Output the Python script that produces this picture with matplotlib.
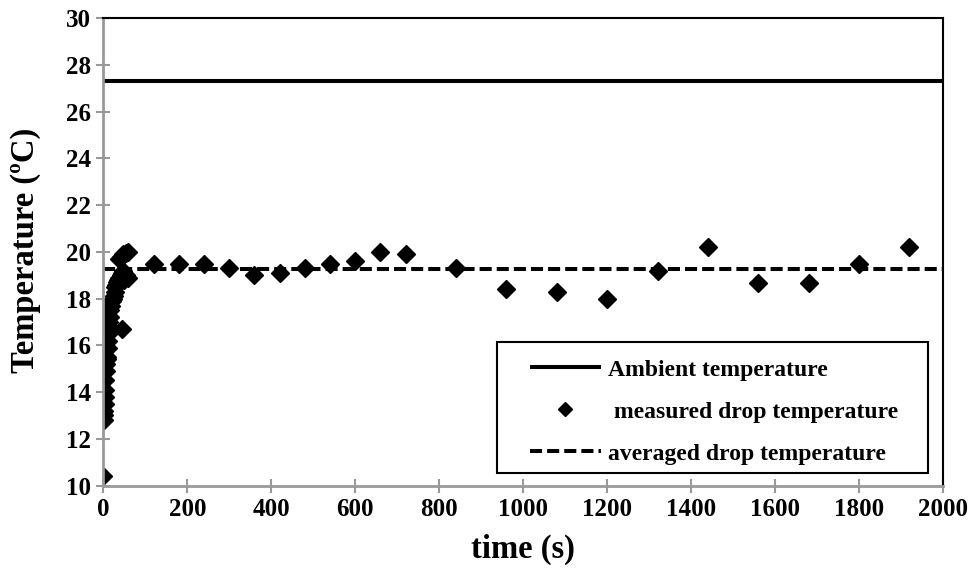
import matplotlib
matplotlib.use("Agg")
import matplotlib.pyplot as plt
from matplotlib.patches import Rectangle

# ---- data ----
t_measured = [0, 1, 2, 2, 3, 4, 5, 5, 6, 7, 8, 9, 10, 11, 12, 13, 14, 16, 17, 19, 21, 23,
              25, 27, 29, 31, 33, 35, 38, 41, 44, 47, 50, 55, 60, 44, 38, 42, 48, 55, 60,
              120, 180, 240, 300, 360, 420, 480, 540, 600, 660, 720, 840, 960, 1080,
              1200, 1320, 1440, 1560, 1680, 1800, 1920]
T_measured = [10.4, 12.8, 13.0, 13.2, 13.5, 13.8, 14.1, 14.5, 14.9, 15.2, 15.4, 15.5, 15.9,
              16.2, 16.5, 16.8, 17.0, 17.2, 17.5, 17.7, 17.9, 18.0, 18.1, 18.3, 18.5, 18.6,
              18.7, 18.8, 18.9, 19.0, 19.1, 19.2, 18.8, 19.0, 18.9, 16.7, 19.7, 19.8, 19.9,
              19.95, 20.0,
              19.5, 19.5, 19.5, 19.3, 19.0, 19.1, 19.3, 19.5, 19.6, 20.0, 19.9, 19.3, 18.4,
              18.3, 18.0, 19.2, 20.2, 18.65, 18.65, 19.5, 20.2]
ambient_T = 27.3
averaged_T = 19.25
x_range = [0, 2000]
x_ticks = [0, 200, 400, 600, 800, 1000, 1200, 1400, 1600, 1800, 2000]
y_ticks = [10, 12, 14, 16, 18, 20, 22, 24, 26, 28, 30]

plt.rcParams['font.family'] = ['Liberation Serif', 'DejaVu Serif']
plt.rcParams['font.weight'] = 'bold'

W, H = 970, 568
fig = plt.figure(figsize=(W / 100, H / 100), dpi=100)
ax = fig.add_axes([0.1065, 0.1452, 0.8657, 0.8226])

ax.plot(x_range, [ambient_T, ambient_T], color='black', lw=2.9, solid_capstyle='butt',
        label='Ambient temperature')
ax.plot(t_measured, T_measured, linestyle='none', marker='D', color='black', ms=9.5,
        label=' measured drop temperature')
ax.plot(x_range, [averaged_T, averaged_T], color='black', lw=2.9, dashes=(3, 1.25),
        label='averaged drop temperature')

ax.set_xlim(0, 2000)
ax.set_ylim(10, 30)
ax.set_xticks(x_ticks)
ax.set_yticks(y_ticks)
ax.tick_params(direction='inout', length=10, width=1.5, color='#999999',
               labelsize=18, pad=4)
for lab in ax.get_xticklabels() + ax.get_yticklabels():
    lab.set_fontweight('bold')

for s in ['left', 'bottom']:
    ax.spines[s].set_color('#999999')
    ax.spines[s].set_linewidth(2)
for s in ['top', 'right']:
    ax.spines[s].set_color('black')
    ax.spines[s].set_linewidth(1.5)

ax.set_xlabel('time (s)', fontsize=23.5, fontweight='bold')
ax.set_ylabel('Temperature (ºC)', fontsize=23.5, fontweight='bold')
ax.xaxis.set_label_coords(0.5, -0.103)
ax.yaxis.set_label_coords(-0.074, 0.504)

# legend frame drawn separately
fig.add_artist(Rectangle((497 / W, 1 - 473 / H), (928 - 497) / W, (473 - 342) / H,
                         transform=fig.transFigure, fill=False, edgecolor='black',
                         lw=1.5, zorder=5))
leg = fig.legend(*ax.get_legend_handles_labels(), loc='upper left',
                 bbox_to_anchor=(530 / W, 1 - 359 / H), fontsize=17,
                 frameon=False, handlelength=3.0, markerscale=0.75,
                 handletextpad=0.3, labelspacing=0.87, borderpad=0, borderaxespad=0)
for txt in leg.get_texts():
    txt.set_fontweight('bold')

fig.savefig('out.png', dpi=100)
